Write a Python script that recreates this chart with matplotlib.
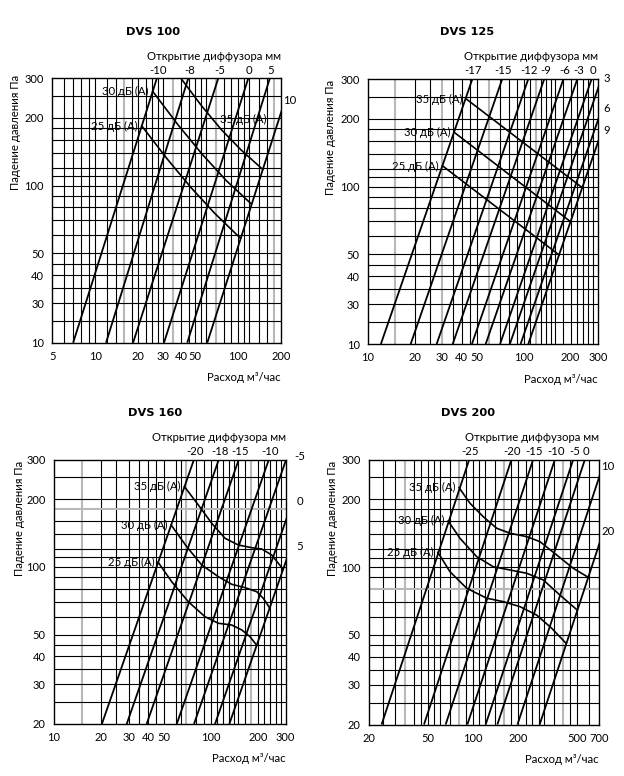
import matplotlib
matplotlib.use("Agg")
import matplotlib.pyplot as plt
from matplotlib.ticker import NullLocator
from matplotlib.transforms import blended_transform_factory, offset_copy

plt.rcParams['font.family'] = ['Lato', 'DejaVu Sans']

W, H = 624, 776

# ---------------- data ----------------
# pressure grid shared by all four nomograms (Па)
dp_grid = [25, 30, 35, 40, 45, 50, 60, 70, 80, 90, 100, 110, 120, 140, 160, 180, 200, 250]
dp_ticks = [20, 30, 40, 50, 100, 200, 300]
db_labels = ['25 дБ (А)', '30 дБ (А)', '35 дБ (А)']

# DVS 100
dvs100_q_grid = [6, 7, 8, 9, 10, 12, 14, 16, 18, 20, 22.5, 25, 27.5, 30, 35, 40, 45, 50,
                 55, 60, 70, 80, 90, 100, 110, 120, 140, 160, 180]
dvs100_q_grey = [16, 35, 70, 180]
dvs100_q_ticks = [5, 10, 20, 30, 40, 50, 100, 200]
dvs100_dp_ticklabels = ['10', '30', '40', '50', '100', '200', '300']
dvs100_openings = ['-10', '-8', '-5', '0', '5', '10']
dvs100_q_at20 = [7.0, 11.9, 18.4, 30.3, 44.1, 60.9]
dvs100_q_at300 = [27.0, 44.8, 72.7, 118, 167, 239]
dvs100_q_25db = [21.2, 31.7, 46.8, 69, 104]
dvs100_dp_25db = [184, 132, 98, 75, 58.3]
dvs100_q_30db = [25.3, 37.8, 56, 83, 124]
dvs100_dp_30db = [262, 187, 138, 105, 82.8]
dvs100_q_35db = [39.8, 55, 76, 105, 149]
dvs100_dp_35db = [300, 228, 178, 144, 118]

# DVS 125
dvs125_q_grid = [15, 20, 25, 30, 35, 40, 45, 50, 60, 70, 80, 90, 100, 110, 120,
                 130, 140, 150, 160, 180, 200, 220, 240, 260, 280]
dvs125_q_grey = [15, 30, 60, 120]
dvs125_q_ticks = [10, 20, 30, 40, 50, 100, 200, 300]
dvs125_dp_ticklabels = ['10', '30', '40', '50', '100', '200', '300']
dvs125_openings = ['-17', '-15', '-12', '-9', '-6', '-3', '0', '3', '6', '9']
dvs125_q_at20 = [12.1, 18.8, 27.6, 35.0, 46.5, 57.0, 70.5, 81.5, 95.5, 107]
dvs125_q_at300 = [46.8, 72.8, 107, 135.5, 180, 221, 273, 315, 370, 414]
dvs125_q_25db = [30.2, 168.7]
dvs125_dp_25db = [123.3, 49.7]
dvs125_q_30db = [36.0, 199.9]
dvs125_dp_30db = [173.4, 69.8]
dvs125_q_35db = [43.0, 237.8]
dvs125_dp_35db = [243.9, 98.8]

# DVS 160
dvs160_q_grid = [15, 20, 25, 30, 35, 40, 45, 50, 60, 65, 70, 80, 90, 100, 110, 120,
                 130, 140, 150, 165, 180, 200, 220, 240, 260, 280]
dvs160_q_grey = [15, 70, 180]
dvs160_dp_grey = [180]
dvs160_q_ticks = [10, 20, 30, 40, 50, 100, 200, 300]
dvs160_dp_ticklabels = ['20', '30', '40', '50', '100', '200', '300']
dvs160_openings = ['-20', '-18', '-15', '-10', '-5', '0', '5']
dvs160_q_at20 = [20.2, 29.1, 39.0, 60.7, 78.2, 106.5, 131.4]
dvs160_q_at300 = [78.2, 112.6, 151, 235, 303, 412, 508]
dvs160_q_25db = [46.2, 56.4, 71.9, 91.9, 111.8, 136.2, 157.7, 178.1, 196]
dvs160_dp_25db = [104.7, 85.8, 70.0, 60.0, 56.1, 55.1, 52.4, 48.9, 44.9]
dvs160_q_30db = [55.9, 70.3, 87.6, 111.8, 136.2, 165.5, 196.6, 216.6, 237]
dvs160_dp_30db = [153.4, 122.9, 101.9, 90.4, 83.6, 80.8, 77.5, 72.4, 65.8]
dvs160_q_35db = [68.0, 83.4, 101.5, 123.4, 150, 182.7, 211.6, 245.1, 270.1, 289]
dvs160_dp_35db = [227.1, 188.3, 156.1, 133.9, 125, 121.6, 120, 112.8, 103.6, 97.8]

# DVS 200
dvs200_q_grid = [25, 30, 35, 40, 45, 50, 55, 60, 70, 80, 90, 100, 110, 120, 140, 160,
                 180, 200, 225, 250, 275, 300, 350, 400, 450, 500, 600]
dvs200_q_grey = [35, 80, 160, 400]
dvs200_dp_grey = [80]
dvs200_q_ticks = [20, 50, 100, 200, 500, 700]
dvs200_dp_ticklabels = ['20', '30', '40', '50', '100', '200', '300']
dvs200_openings = ['-25', '-20', '-15', '-10', '-5', '0', '10', '20']
dvs200_q_at20 = [24.3, 46.8, 65.4, 91.5, 121.4, 145.5, 198.5, 279.7]
dvs200_q_at300 = [94.2, 181, 253, 354, 470, 563, 768, 1082]
dvs200_q_25db = [58, 69.9, 90.5, 123.3, 159.3, 206.2, 267, 336.6, 420]
dvs200_dp_25db = [116.2, 95.3, 80.5, 72.7, 70.2, 66.7, 61.2, 53.5, 45.9]
dvs200_q_30db = [68, 81.6, 105.7, 136.5, 176.8, 228.8, 295.7, 382.6, 500]
dvs200_dp_30db = [160.1, 134.1, 111.1, 100.3, 97.0, 93.8, 87.6, 75.1, 64.4]
dvs200_q_35db = [80.5, 95.3, 117, 143.9, 176.8, 228.8, 281, 363.7, 470, 593]
dvs200_dp_35db = [225, 191.8, 167.2, 148.6, 141.2, 136.4, 129.6, 113.1, 98.7, 90.0]

# ---------------- drawing ----------------
FS = 8.2
TICK_FS = 8
fig = plt.figure(figsize=(W / 100, H / 100), dpi=100)


def px_text(x, y, s, **kw):
    kw.setdefault('fontsize', FS)
    fig.text(x / W, 1 - y / H, s, **kw)


def draw_panel(box, title, q_lim, q_grid, q_grey, dp_grey, q_ticks, dp_ticklabels,
               openings, q_at20, q_at300, n_top, right_x, right_y, curves, title_xy, ylab_xy,
               db_label_at=None):
    x0, y0, x1, y1 = box
    ax = fig.add_axes([x0 / W, 1 - y1 / H, (x1 - x0) / W, (y1 - y0) / H])
    ax.set_xscale('log')
    ax.set_yscale('log')
    ax.set_xlim(*q_lim)
    ax.set_ylim(20, 300)

    for q in q_grid:
        if q in q_grey:
            ax.axvline(q, color='#b8b8b8', lw=1.5, zorder=1)
        else:
            ax.axvline(q, color='black', lw=0.8, zorder=1)
    for dp in dp_grid:
        if dp in dp_grey:
            ax.axhline(dp, color='#b8b8b8', lw=1.5, zorder=1)
        else:
            ax.axhline(dp, color='black', lw=0.8, zorder=1)

    # diffuser opening lines
    for qb, qt in zip(q_at20, q_at300):
        ax.plot([qb, qt], [20, 300], color='black', lw=1.3, zorder=3, solid_capstyle='butt')

    # noise level curves
    for i, (qs, dps) in enumerate(curves):
        ax.plot(qs, dps, color='black', lw=1.2, zorder=3)
        if db_label_at is not None and i in db_label_at:
            lq, ldp = db_label_at[i]
            ax.text(lq, ldp, db_labels[i], fontsize=FS, ha='center', va='center', zorder=4)
        else:
            tr = offset_copy(ax.transData, fig=fig, x=-4, y=0, units='dots')
            ax.text(qs[0], dps[0], db_labels[i], fontsize=FS, ha='right', va='center',
                    transform=tr, zorder=4)

    # opening labels along the top and on the right side
    top_tr = offset_copy(blended_transform_factory(ax.transData, ax.transAxes),
                         fig=fig, x=1, y=8, units='dots')
    for name, qt in zip(openings[:n_top], q_at300[:n_top]):
        ax.text(qt, 1.0, name, fontsize=FS, ha='center', va='center', transform=top_tr)
    for name, yy in zip(openings[n_top:], right_y):
        px_text(x1 + right_x, yy, name, ha='center', va='center')

    for s in ax.spines.values():
        s.set_linewidth(1.0)
        s.set_zorder(5)

    ax.xaxis.set_minor_locator(NullLocator())
    ax.yaxis.set_minor_locator(NullLocator())
    ax.set_xticks(q_ticks, labels=[str(v) for v in q_ticks])
    ax.set_yticks(dp_ticks, labels=dp_ticklabels)
    ax.tick_params(axis='both', which='both', length=0, labelsize=TICK_FS)
    ax.tick_params(axis='x', pad=6)
    ax.tick_params(axis='y', pad=6)

    px_text(title_xy[0], title_xy[1], title, family='DejaVu Sans', fontweight='bold',
            fontsize=8.2, ha='center', va='center')
    px_text(x1, y0 - 22, 'Открытие диффузора мм', ha='right', va='center')
    px_text(x1, y1 + 35, 'Расход м³/час', ha='right', va='center')
    px_text(ylab_xy[0], ylab_xy[1], 'Падение давления Па', rotation=90, ha='center', va='center')
    return ax


draw_panel((52.3, 78.3, 281, 342.7), 'DVS 100', (5, 200), dvs100_q_grid, dvs100_q_grey, [],
           dvs100_q_ticks, dvs100_dp_ticklabels, dvs100_openings, dvs100_q_at20, dvs100_q_at300,
           5, 9, [100],
           [(dvs100_q_25db, dvs100_dp_25db), (dvs100_q_30db, dvs100_dp_30db),
            (dvs100_q_35db, dvs100_dp_35db)],
           (153.3, 32.3), (16, 132), db_label_at={2: (108, 196)})

draw_panel((368, 79, 598, 344), 'DVS 125', (10, 300), dvs125_q_grid, dvs125_q_grey, [],
           dvs125_q_ticks, dvs125_dp_ticklabels, dvs125_openings, dvs125_q_at20, dvs125_q_at300,
           7, 9, [78.3, 108.3, 131],
           [(dvs125_q_25db, dvs125_dp_25db), (dvs125_q_30db, dvs125_dp_30db),
            (dvs125_q_35db, dvs125_dp_35db)],
           (466.7, 32.3), (331, 137))

draw_panel((54, 459.5, 285.5, 724), 'DVS 160', (10, 300), dvs160_q_grid, dvs160_q_grey,
           dvs160_dp_grey, dvs160_q_ticks, dvs160_dp_ticklabels, dvs160_openings,
           dvs160_q_at20, dvs160_q_at300, 4, 14, [456.7, 501.7, 546.7],
           [(dvs160_q_25db, dvs160_dp_25db), (dvs160_q_30db, dvs160_dp_30db),
            (dvs160_q_35db, dvs160_dp_35db)],
           (155, 413.3), (20, 518))

draw_panel((369, 459.5, 599, 724.5), 'DVS 200', (20, 700), dvs200_q_grid, dvs200_q_grey,
           dvs200_dp_grey, dvs200_q_ticks, dvs200_dp_ticklabels, dvs200_openings,
           dvs200_q_at20, dvs200_q_at300, 6, 9, [466.7, 531.7],
           [(dvs200_q_25db, dvs200_dp_25db), (dvs200_q_30db, dvs200_dp_30db),
            (dvs200_q_35db, dvs200_dp_35db)],
           (468.3, 413.3), (333, 518))

fig.savefig('out.png', dpi=100, facecolor='white')
